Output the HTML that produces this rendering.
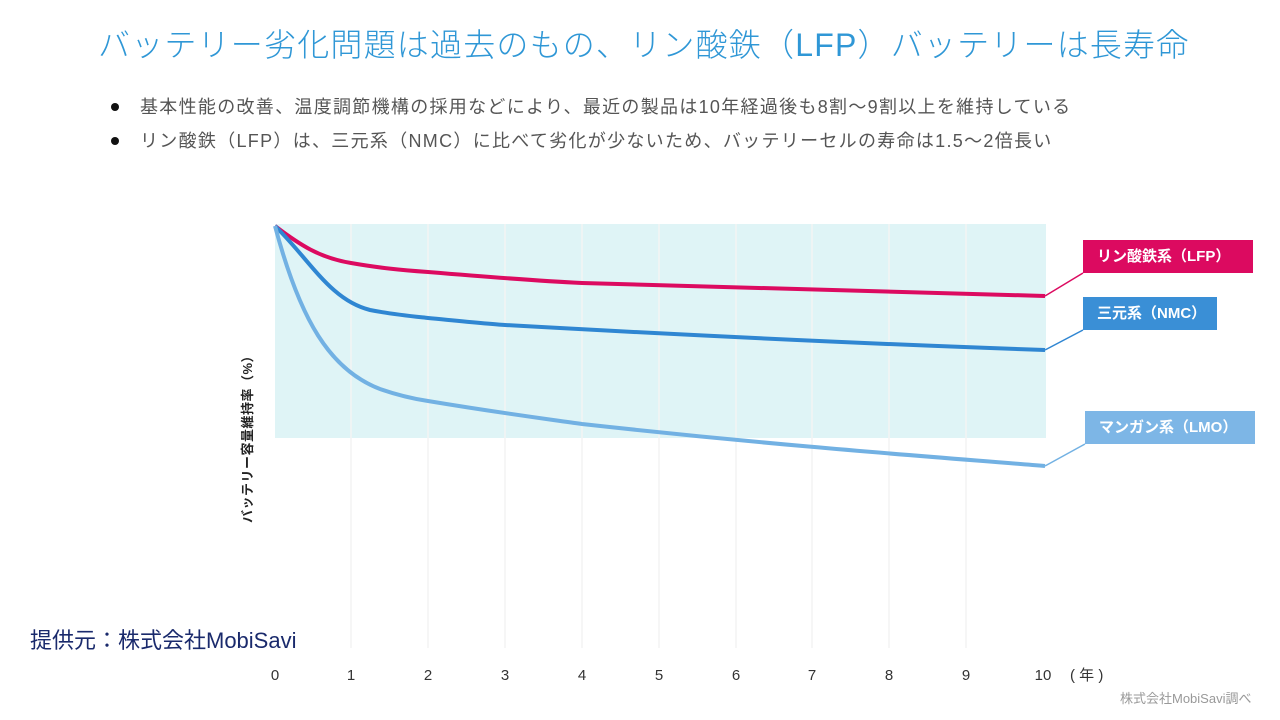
<!DOCTYPE html>
<html><head><meta charset="utf-8"><style>
body{margin:0;width:1280px;height:720px;background:#fff;position:relative;overflow:hidden;font-family:"Liberation Sans","Noto Sans CJK JP",sans-serif;}
.t{position:absolute;white-space:nowrap;}
.title{left:98px;top:20px;font-size:32px;color:#2f97d6;font-weight:300;letter-spacing:1.2px;}
.b{left:140px;font-size:18px;color:#555;letter-spacing:1.3px;}
.dot{position:absolute;width:8px;height:8px;border-radius:50%;background:#111;left:111px;}
.lab{position:absolute;color:#fff;font-weight:bold;font-size:15px;line-height:33px;padding-left:14px;box-sizing:border-box;height:33px;}
</style></head><body>
<div class="t title">バッテリー劣化問題は過去のもの、リン酸鉄（LFP）バッテリーは長寿命</div>
<div class="dot" style="top:103px"></div>
<div class="t b" style="top:93px">基本性能の改善、温度調節機構の採用などにより、最近の製品は10年経過後も8割〜9割以上を維持している</div>
<div class="dot" style="top:137px"></div>
<div class="t b" style="top:127px">リン酸鉄（LFP）は、三元系（NMC）に比べて劣化が少ないため、バッテリーセルの寿命は1.5〜2倍長い</div>

<svg width="1280" height="720" style="position:absolute;left:0;top:0">
<rect x="275" y="224" width="771" height="214" fill="#dff4f6"/>
<g stroke="#f3f3f3" stroke-width="1.5">
<line x1="351" y1="224" x2="351" y2="648"/><line x1="428" y1="224" x2="428" y2="648"/><line x1="505" y1="224" x2="505" y2="648"/><line x1="582" y1="224" x2="582" y2="648"/><line x1="659" y1="224" x2="659" y2="648"/><line x1="736" y1="224" x2="736" y2="648"/><line x1="812" y1="224" x2="812" y2="648"/><line x1="889" y1="224" x2="889" y2="648"/><line x1="966" y1="224" x2="966" y2="648"/>
</g>
<path d="M275,226 C300,245 320,258 351,263 C380,268 400,270 428,272 C500,278 540,281 582,283 C800,290 950,293 1045,296" fill="none" stroke="#dc0a60" stroke-width="4"/>
<path d="M275,226 C310,260 330,300 370,310 C390,314 410,316 428,318 C470,322 490,324 505,325 C700,336 900,345 1045,350" fill="none" stroke="#2f86d2" stroke-width="4"/>
<path d="M275,226 C300,320 330,370 380,389 C400,396 415,399 428,401 C500,413 540,418 582,424 C800,448 950,458 1045,466" fill="none" stroke="#72b1e3" stroke-width="4"/>
<line x1="1045" y1="296" x2="1083" y2="273" stroke="#dc0a60" stroke-width="1.5"/>
<line x1="1045" y1="350" x2="1083" y2="330" stroke="#2f86d2" stroke-width="1.5"/>
<line x1="1045" y1="466" x2="1085" y2="444" stroke="#72b1e3" stroke-width="1.5"/>
<g font-family="Liberation Sans,sans-serif" font-size="15" fill="#333" text-anchor="middle">
<text x="275" y="680">0</text><text x="351" y="680">1</text><text x="428" y="680">2</text><text x="505" y="680">3</text><text x="582" y="680">4</text><text x="659" y="680">5</text><text x="736" y="680">6</text><text x="812" y="680">7</text><text x="889" y="680">8</text><text x="966" y="680">9</text><text x="1043" y="680">10</text>
</g>
<text x="1070" y="680" font-family="Liberation Sans,Noto Sans CJK JP,sans-serif" font-size="15" fill="#333">( 年 )</text>
<text transform="translate(252,436) rotate(-90)" text-anchor="middle" font-family="Liberation Sans,Noto Sans CJK JP,sans-serif" font-size="13" font-weight="bold" fill="#222" letter-spacing="0.5">バッテリー容量維持率（%）</text>
</svg>
<div class="lab" style="left:1083px;top:240px;width:170px;background:#dc0a60">リン酸鉄系（LFP）</div>
<div class="lab" style="left:1083px;top:297px;width:134px;background:#3a8fd6">三元系（NMC）</div>
<div class="lab" style="left:1085px;top:411px;width:170px;background:#7db6e6">マンガン系（LMO）</div>
<div class="t" style="left:30px;top:623px;font-size:22px;color:#1a2a6c">提供元：株式会社MobiSavi</div>
<div class="t" style="left:1120px;top:688px;font-size:13px;color:#999">株式会社MobiSavi調べ</div>
</body></html>
